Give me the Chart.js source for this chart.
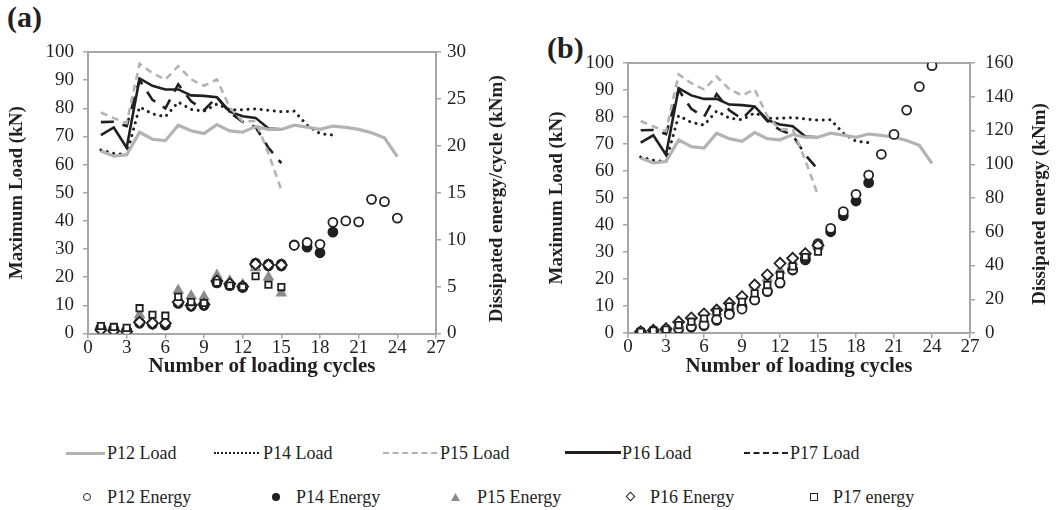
<!DOCTYPE html>
<html>
<head>
<meta charset="utf-8">
<script src="https://cdn.jsdelivr.net/npm/chart.js@4.4.1/dist/chart.umd.min.js"></script>
<style>
body { margin: 0; background: #fff; font-family: "Liberation Serif", "Times New Roman", serif; color: #231f20; }
#page { position: relative; width: 1057px; height: 510px; overflow: hidden; }
.panel { position: absolute; font-weight: bold; font-size: 30px; line-height: 1; }
canvas { position: absolute; top: 0; }
.ln { position: absolute; height: 0; }
.mk { position: absolute; box-sizing: border-box; }
.tx { position: absolute; font-size: 18px; line-height: 20px; white-space: nowrap; }
</style>
</head>
<body>
<div id="page">
  <div class="panel" style="left:7px;top:2px">(a)</div>
  <div class="panel" style="left:547px;top:33px">(b)</div>
  <canvas id="chartA" width="512" height="381" style="left:0"></canvas>
  <canvas id="chartB" width="515" height="381" style="left:540px"></canvas>

  <!-- legend, row 1 -->
  <span class="ln" style="left:66px;top:452px;width:39px;border-top:3px solid #b3b3b3"></span>
  <span class="tx" style="left:107px;top:443px">P12 Load</span>
  <span class="ln" style="left:214px;top:452px;width:45px;border-top:2px dotted #231f20"></span>
  <span class="tx" style="left:263px;top:443px">P14 Load</span>
  <span class="ln" style="left:383px;top:452px;width:54px;border-top:2px dashed #b3b3b3"></span>
  <span class="tx" style="left:440px;top:443px">P15 Load</span>
  <span class="ln" style="left:565px;top:451px;width:56px;border-top:3px solid #231f20"></span>
  <span class="tx" style="left:622px;top:443px">P16 Load</span>
  <span class="ln" style="left:744px;top:452px;width:44px;border-top:2px dashed #231f20"></span>
  <span class="tx" style="left:790px;top:443px">P17 Load</span>

  <!-- legend, row 2 -->
  <span class="mk" style="left:83px;top:493px;width:8px;height:8px;border:1.5px solid #231f20;border-radius:50%"></span>
  <span class="tx" style="left:107px;top:487px">P12 Energy</span>
  <span class="mk" style="left:272px;top:493px;width:8px;height:8px;background:#231f20;border-radius:50%"></span>
  <span class="tx" style="left:296px;top:487px">P14 Energy</span>
  <span class="mk" style="left:451px;top:493px;width:9px;height:8px;background:#8c8c8c;clip-path:polygon(50% 0,100% 100%,0 100%)"></span>
  <span class="tx" style="left:477px;top:487px">P15 Energy</span>
  <span class="mk" style="left:627px;top:493px;width:7px;height:7px;border:1.5px solid #231f20;transform:rotate(45deg)"></span>
  <span class="tx" style="left:650px;top:487px">P16 Energy</span>
  <span class="mk" style="left:810px;top:493px;width:8px;height:8px;border:1.5px solid #231f20"></span>
  <span class="tx" style="left:833px;top:487px">P17 energy</span>
</div>
<script>
// loading cycle numbers
const cycles = [1, 2, 3, 4, 5, 6, 7, 8, 9, 10, 11, 12, 13, 14, 15, 16, 17, 18, 19, 20, 21, 22, 23, 24];
const xTickValues = [0, 3, 6, 9, 12, 15, 18, 21, 24, 27];

// maximum load per cycle (kN), same in both panels
const p12Load = [64.8, 63, 63.5, 71.5, 69, 68.5, 74, 72, 71, 74.2, 72, 71.5, 73.5, 72.5, 72.5, 74, 73.3, 72.5, 73.7, 73.2, 72.5, 71.3, 69.5, 62.8];
const p14Load = [65.2, 64, 63.5, 80.5, 78, 77, 82.2, 79.6, 79, 81.5, 79.5, 79.5, 79.8, 79.3, 78.8, 79, 74, 71, 70.5];
const p15Load = [78.5, 76.5, 74.8, 95.8, 92.5, 90.2, 95, 90.3, 88, 90.2, 80.3, 75.3, 75.5, 64, 51];
const p16Load = [70.5, 73.2, 66, 90.6, 88, 86.7, 86.7, 84.6, 84.4, 83.9, 78.8, 77.2, 76.6, 72.8, 72.5];
const p17Load = [75.1, 75.2, 73.7, 90, 83, 80, 88.5, 82.5, 79.3, 84, 78.5, 75.2, 73.3, 66, 60.5];

// (a) dissipated energy per cycle (kNm)
const p12EnergyA = [0.6, 0.5, 0.3, 1.2, 1.1, 1.0, 3.3, 3.0, 3.1, 5.5, 5.2, 5.0, 7.5, 7.4, 7.4, 9.4, 9.7, 9.5, 11.85, 12.0, 11.9, 14.3, 14.05, 12.3];
const p14EnergyA = [0.5, 0.4, 0.3, 1.1, 1.0, 0.9, 3.2, 2.9, 3.0, 5.4, 5.1, 4.9, 7.3, 7.2, 7.2, 9.43, 9.2, 8.6, 10.8];
const p15EnergyA = [0.5, 0.4, 0.2, 2.0, 1.5, 1.3, 4.6, 4.0, 3.9, 6.2, 5.6, 5.2, 7.0, 6.0, 4.3];
const p16EnergyA = [0.4, 0.3, 0.2, 1.2, 1.1, 1.1, 3.35, 3.0, 3.1, 5.6, 5.3, 5.0, 7.4, 7.3, 7.3];
const p17EnergyA = [0.8, 0.7, 0.6, 2.7, 2.0, 1.9, 3.9, 3.35, 3.25, 5.4, 5.1, 4.95, 6.1, 5.2, 4.95];

// (b) dissipated energy, cumulative (kNm)
const p12EnergyB = [0.6, 1.1, 1.5, 2.7, 3.8, 4.8, 8, 11, 14.2, 19.6, 24.8, 29.8, 37.5, 44.7, 53, 62, 71.9, 82.2, 93.6, 105.9, 117.7, 132.1, 146, 158.4];
const p14EnergyB = [0.5, 0.9, 1.3, 2.4, 3.4, 4.3, 7.5, 12, 15.6, 19.6, 24.5, 29.5, 37.3, 43.3, 50.8, 60, 69.5, 78.2, 89.1];
const p15EnergyB = [0.8, 1.5, 2.5, 4.5, 6.5, 8.5, 12.5, 16, 21.5, 28.4, 32.5, 37, 42, 47.2, 52];
const p16EnergyB = [0.8, 1.6, 2.5, 6.5, 8.9, 11.3, 13.6, 17.6, 21.5, 28.4, 34.4, 41.3, 44.3, 47, 52];
const p17EnergyB = [0.7, 1.4, 2, 4.7, 6.7, 8.6, 12.5, 15.8, 18.5, 23.5, 28.4, 34.4, 39.5, 45, 48.2];

const ink = '#231f20';
const axisGray = '#a6a6a6';
const lightGray = '#b3b3b3';
const serif = '"Liberation Serif", "Times New Roman", serif';

function pts(values) {
    return values.map((v, i) => ({ x: cycles[i], y: v }));
}

function lineSet(label, values, color, width, dash, cap) {
    return {
        label: label, data: pts(values), yAxisID: 'y',
        borderColor: color, borderWidth: width, borderDash: dash, borderCapStyle: cap || 'butt',
        pointRadius: 0, fill: false, tension: 0, order: 10
    };
}

function pointSet(label, values, style, fillColor, lineColor, radius, order) {
    return {
        label: label, data: pts(values), yAxisID: 'y2', showLine: false,
        pointStyle: style, pointRadius: radius, pointBackgroundColor: fillColor,
        pointBorderColor: lineColor, pointBorderWidth: 1.8, order: order
    };
}

// right axis title reads bottom-to-top, so draw it ourselves
const rightTitle = {
    id: 'rightTitle',
    afterDraw(chart, args, opts) {
        const ctx = chart.ctx;
        const s = chart.scales.y2;
        ctx.save();
        ctx.translate(s.right - 15, (chart.chartArea.top + chart.chartArea.bottom) / 2 + opts.shift);
        ctx.rotate(-Math.PI / 2);
        ctx.font = 'bold 19px ' + serif;
        ctx.fillStyle = ink;
        ctx.textAlign = 'center';
        ctx.textBaseline = 'middle';
        ctx.fillText(opts.text, 0, 0);
        ctx.restore();
    }
};

function makeChart(id, energies, rightMax, rightStep, rightText, padTop, plotBottom, rightWidth, rightPad) {
    const H = 381;
    const grid = { display: true, drawOnChartArea: false, tickLength: 5, color: axisGray, lineWidth: 1.5 };
    const border = { display: true, color: axisGray, width: 2 };
    const tickFont = { family: serif, size: 19 };
    return new Chart(document.getElementById(id), {
        type: 'line',
        data: {
            datasets: [
                lineSet('P12 Load', p12Load, lightGray, 3.2, []),
                lineSet('P14 Load', p14Load, ink, 3, [0.1, 6.5], 'round'),
                lineSet('P15 Load', p15Load, lightGray, 2.6, [7, 5]),
                lineSet('P16 Load', p16Load, ink, 2.6, []),
                lineSet('P17 Load', p17Load, ink, 2.6, [13, 9]),
                pointSet('P12 Energy', energies[0], 'circle', '#fff', ink, 4.5, 4),
                pointSet('P14 Energy', energies[1], 'circle', ink, ink, 4.5, 5),
                pointSet('P15 Energy', energies[2], 'triangle', '#8c8c8c', '#8c8c8c', 5, 3),
                pointSet('P16 Energy', energies[3], 'rectRot', '#fff', ink, 5.5, 2),
                pointSet('P17 energy', energies[4], 'rect', '#fff', ink, 4.5, 1)
            ]
        },
        options: {
            responsive: false,
            animation: false,
            layout: { padding: { top: padTop, left: 0, right: 0, bottom: 0 } },
            plugins: { legend: { display: false }, tooltip: { enabled: false },
                       rightTitle: { text: rightText, shift: 6 } },
            scales: {
                x: {
                    type: 'linear', position: 'bottom', min: 0, max: 27,
                    afterBuildTicks: (s) => { s.ticks = xTickValues.map(v => ({ value: v })); },
                    afterFit: (s) => { s.height = H - plotBottom; },
                    ticks: { font: tickFont, color: ink, padding: -2, maxRotation: 0 },
                    grid: grid, border: border,
                    title: { display: true, text: 'Number of loading cycles', color: ink,
                             font: { family: serif, size: 21, weight: 'bold' }, padding: { top: 0, bottom: 2 } }
                },
                xTop: {
                    type: 'linear', position: 'top', min: 0, max: 27,
                    afterFit: (s) => { s.height = 0; },
                    ticks: { display: false },
                    grid: { display: false, drawTicks: false }, border: border
                },
                y: {
                    position: 'left', min: 0, max: 100,
                    afterFit: (s) => { s.width = 88; },
                    ticks: { stepSize: 10, font: tickFont, color: ink, padding: 9 },
                    grid: grid, border: border,
                    title: { display: true, text: 'Maximum Load (kN)', color: ink,
                             font: { family: serif, size: 19, weight: 'bold' }, padding: { top: 6, bottom: 0 } }
                },
                y2: {
                    position: 'right', min: 0, max: rightMax,
                    afterFit: (s) => { s.width = rightWidth; },
                    ticks: { stepSize: rightStep, font: tickFont, color: ink, padding: rightPad },
                    grid: grid, border: border
                }
            }
        },
        plugins: [rightTitle]
    });
}

makeChart('chartA', [p12EnergyA, p14EnergyA, p15EnergyA, p16EnergyA, p17EnergyA],
    30, 5, 'Dissipated energy/cycle (kNm)', 52, 333.5, 76, 6);
makeChart('chartB', [p12EnergyB, p14EnergyB, p15EnergyB, p16EnergyB, p17EnergyB],
    160, 20, 'Dissipated energy (kNm)', 63, 333, 85, 10);
</script>
</body>
</html>
